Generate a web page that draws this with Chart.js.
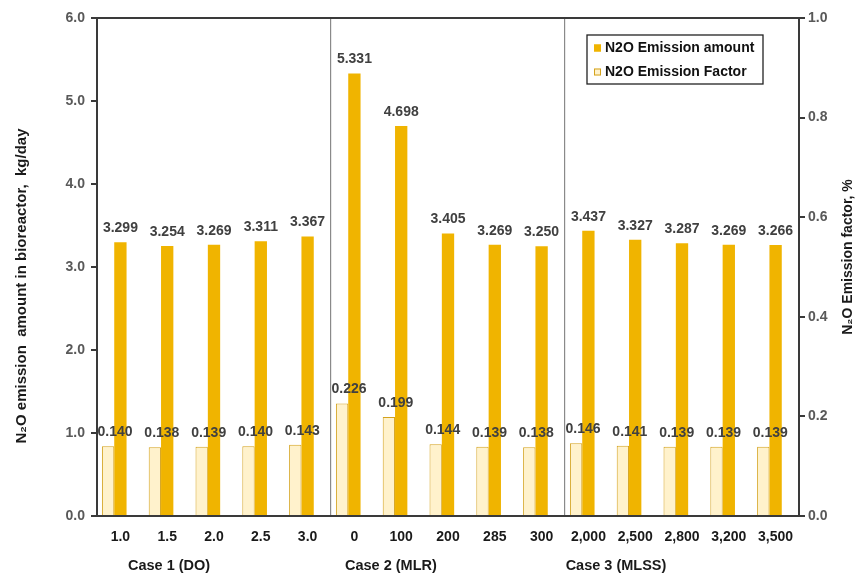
<html>
<head>
  <title>N2O Emission by Operating Case</title>
  <script src="https://cdn.jsdelivr.net/npm/chart.js"></script>
  <style>
    body { margin: 0; background: #fff; }
    #wrap { width: 855px; height: 576px; }
  </style>
</head>
<body>
  <div id="wrap"><canvas id="myChart"></canvas></div>

  <script>
    // Operating conditions on the x axis
    var categories = ["1.0", "1.5", "2.0", "2.5", "3.0",
                      "0", "100", "200", "285", "300",
                      "2,000", "2,500", "2,800", "3,200", "3,500"];
    var caseNames = ["Case 1 (DO)", "Case 2 (MLR)", "Case 3 (MLSS)"];

    // N2O emission amount, kg/day (left axis)
    var emissionAmount = [3.299, 3.254, 3.269, 3.311, 3.367,
                          5.331, 4.698, 3.405, 3.269, 3.250,
                          3.437, 3.327, 3.287, 3.269, 3.266];

    // N2O emission factor, % (right axis)
    var emissionFactor = [0.140, 0.138, 0.139, 0.140, 0.143,
                          0.226, 0.199, 0.144, 0.139, 0.138,
                          0.146, 0.141, 0.139, 0.139, 0.139];

    var leftTitle = "N\u2082O emission  amount in bioreactor,  kg/day";
    var rightTitle = "N\u2082O Emission factor, %";

    var GOLD = "#F0B400";
    var PALE = "#FFF2CC";
    var PALE_EDGE = "#D4A21C";
    var AXIS = "#3a3a3a";
    var FONT = "'Liberation Sans', Arial, sans-serif";

    // value labels above each bar
    var valueLabels = {
      id: "valueLabels",
      afterDatasetsDraw: function (chart) {
        var ctx = chart.ctx;
        ctx.save();
        ctx.font = "bold 14px " + FONT;
        ctx.fillStyle = "#404040";
        ctx.textAlign = "center";
        ctx.textBaseline = "middle";
        chart.getDatasetMeta(0).data.forEach(function (bar, i) {
          ctx.fillText(emissionFactor[i].toFixed(3), bar.x + 7, bar.y - 14);
        });
        chart.getDatasetMeta(1).data.forEach(function (bar, i) {
          ctx.fillText(emissionAmount[i].toFixed(3), bar.x, bar.y - 14);
        });
        ctx.restore();
      }
    };

    // top frame line, axis titles, case labels and the boxed legend
    var decorations = {
      id: "decorations",
      afterDraw: function (chart) {
        var ctx = chart.ctx;
        var area = chart.chartArea;
        var midY = (area.top + area.bottom) / 2;
        var unit = (area.right - area.left) / categories.length;
        ctx.save();

        ctx.strokeStyle = AXIS;
        ctx.lineWidth = 2;
        ctx.beginPath();
        ctx.moveTo(area.left, area.top);
        ctx.lineTo(area.right, area.top);
        ctx.stroke();

        // rotated axis titles
        ctx.fillStyle = "#1a1a1a";
        ctx.textAlign = "center";
        ctx.textBaseline = "middle";
        ctx.font = "bold 15px " + FONT;
        ctx.save();
        ctx.translate(22, midY + 19);
        ctx.rotate(-Math.PI / 2);
        ctx.fillText(leftTitle, 0, 0);
        ctx.restore();

        ctx.font = "bold 14px " + FONT;
        ctx.save();
        ctx.translate(chart.width - 7, midY - 10);
        ctx.rotate(-Math.PI / 2);
        ctx.fillText(rightTitle, 0, 0);
        ctx.restore();

        ctx.font = "bold 14.5px " + FONT;
        var casePos = [1.54, 6.28, 11.09];
        caseNames.forEach(function (name, k) {
          ctx.fillText(name, area.left + unit * casePos[k], area.bottom + 50);
        });

        // legend
        var bx = area.right - 212, by = area.top + 17, bw = 176, bh = 49;
        ctx.fillStyle = "#fff";
        ctx.fillRect(bx, by, bw, bh);
        ctx.strokeStyle = "#222";
        ctx.lineWidth = 1.3;
        ctx.strokeRect(bx, by, bw, bh);

        var items = [
          { text: chart.data.datasets[1].label, fill: GOLD, edge: GOLD },
          { text: chart.data.datasets[0].label, fill: PALE, edge: PALE_EDGE }
        ];
        ctx.font = "bold 14px " + FONT;
        ctx.textAlign = "left";
        items.forEach(function (it, k) {
          var cy = by + 13 + k * 24;
          ctx.fillStyle = it.fill;
          ctx.fillRect(bx + 7, cy - 3.5, 7, 7);
          ctx.strokeStyle = it.edge;
          ctx.lineWidth = 1;
          ctx.strokeRect(bx + 7.5, cy - 3, 6, 6);
          ctx.fillStyle = "#111";
          ctx.fillText(it.text, bx + 18, cy);
        });
        ctx.restore();
      }
    };

    function drawChart() {
      var ctx = document.getElementById("myChart").getContext("2d");
      var tickFont = { family: FONT, size: 14, weight: "bold" };

      new Chart(ctx, {
        type: "bar",
        data: {
          labels: categories,
          datasets: [
            {
              label: "N2O Emission Factor",
              data: emissionFactor,
              yAxisID: "y1",
              backgroundColor: PALE,
              borderColor: PALE_EDGE,
              borderWidth: 1,
              categoryPercentage: 0.79,
              barPercentage: 1
            },
            {
              label: "N2O Emission amount",
              data: emissionAmount,
              yAxisID: "y",
              backgroundColor: GOLD,
              borderWidth: 0,
              categoryPercentage: 0.79,
              barPercentage: 1
            },
            {
              // empty slot so the amount bar sits on the tick
              label: "",
              data: [],
              yAxisID: "y",
              categoryPercentage: 0.79,
              barPercentage: 1
            }
          ]
        },
        options: {
          responsive: true,
          maintainAspectRatio: false,
          animation: false,
          layout: { padding: { top: 18, left: 0, right: 0, bottom: 0 } },
          plugins: {
            legend: { display: false },
            tooltip: { enabled: false }
          },
          scales: {
            x: {
              afterFit: function (s) { s.height = 60; },
              grid: {
                offset: true,
                drawTicks: false,
                lineWidth: 1.2,
                color: function (c) {
                  return (c.index === 5 || c.index === 10) ? "#8a8a8a" : "rgba(0,0,0,0)";
                }
              },
              border: { color: AXIS, width: 2 },
              ticks: { padding: 13, color: "#1a1a1a", font: tickFont }
            },
            y: {
              position: "left",
              min: 0,
              max: 6,
              afterFit: function (s) { s.width = 97; },
              grid: { drawOnChartArea: false, tickLength: 6, color: AXIS, lineWidth: 2 },
              border: { color: AXIS, width: 2 },
              ticks: {
                stepSize: 1,
                padding: 6,
                color: "#595959",
                font: tickFont,
                callback: function (v) { return v.toFixed(1); }
              }
            },
            y1: {
              position: "right",
              min: 0,
              max: 1,
              afterFit: function (s) { s.width = 56; },
              grid: { drawOnChartArea: false, tickLength: 6, color: AXIS, lineWidth: 2 },
              border: { color: AXIS, width: 2 },
              ticks: {
                stepSize: 0.2,
                padding: 3,
                color: "#595959",
                font: tickFont,
                callback: function (v) { return v.toFixed(1); }
              }
            }
          }
        },
        plugins: [valueLabels, decorations]
      });
    }

    drawChart();
  </script>
</body>
</html>
